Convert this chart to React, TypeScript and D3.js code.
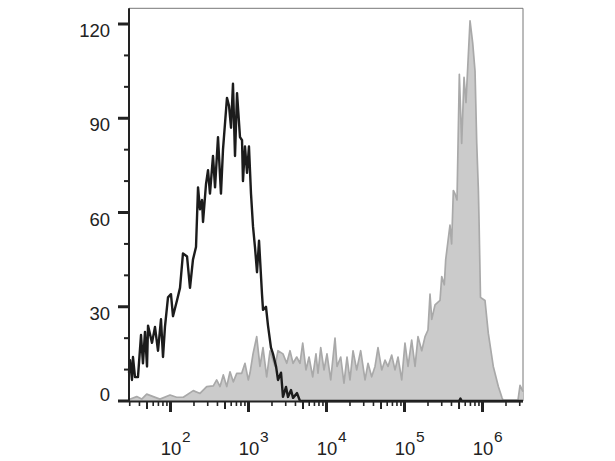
import React from 'react';
import * as d3 from 'd3';

// x values are log10(fluorescence intensity); y values are cell counts
const xDomainLog: [number, number] = [1.468, 6.519];
const yDomain: [number, number] = [0, 125];
const yTicksMajor = [0, 30, 60, 90, 120];
const yTicksMinor = [10, 20, 40, 50, 70, 80, 100, 110];
const decadeExponents = [2, 3, 4, 5, 6];

// Isotype control (black outline)
const isotypeHist: [number, number][] = [
  [1.468, 9], [1.481, 13], [1.506, 6.7], [1.519, 14], [1.545, 7.6], [1.583, 7.6],
  [1.622, 21], [1.647, 12], [1.673, 22], [1.699, 11], [1.712, 24], [1.763, 18.5],
  [1.801, 23.6], [1.84, 16], [1.878, 26], [1.904, 14], [1.929, 23.6], [1.968, 33],
  [2.006, 34], [2.032, 27], [2.083, 32], [2.122, 36], [2.16, 47], [2.212, 46],
  [2.25, 36], [2.288, 45], [2.327, 49], [2.353, 68], [2.378, 61], [2.404, 64],
  [2.417, 57], [2.455, 69], [2.481, 73.5], [2.506, 66], [2.545, 78], [2.571, 68],
  [2.609, 84], [2.647, 66], [2.673, 80], [2.724, 96.5], [2.75, 94], [2.776, 87],
  [2.801, 101], [2.827, 78], [2.853, 98], [2.891, 84], [2.917, 83], [2.929, 70],
  [2.955, 81], [2.981, 72.6], [3.006, 81], [3.032, 66], [3.058, 55.5], [3.083, 49],
  [3.109, 41], [3.135, 51], [3.173, 34], [3.186, 29], [3.224, 30], [3.25, 24],
  [3.288, 17], [3.314, 15], [3.353, 11], [3.378, 6.7], [3.417, 9], [3.442, 1.3],
  [3.481, 4.5], [3.506, 1.3], [3.545, 3.5], [3.571, 1], [3.622, 2.5], [3.66, 0],
  [5.7, 0], [5.717, 0.8], [5.734, 0], [6.519, 0],
];

// Stained sample (grey filled)
const stainedHist: [number, number][] = [
  [1.468, 0.5], [1.567, 1.4], [1.631, 0.6], [1.695, 2.2], [1.779, 1.4], [1.865, 0.6],
  [1.994, 1.9], [2.079, 1.2], [2.164, 1.2], [2.292, 3.3], [2.378, 2.4], [2.464, 4.6],
  [2.549, 4.8], [2.592, 6.7], [2.635, 4.6], [2.677, 8.3], [2.721, 4.6], [2.763, 9.3],
  [2.805, 6.1], [2.849, 8.8], [2.913, 8.8], [2.955, 12], [2.997, 6.7], [3.019, 8.9],
  [3.058, 15], [3.105, 20.5], [3.147, 11], [3.186, 17], [3.233, 7.7], [3.276, 16],
  [3.34, 11], [3.378, 16], [3.442, 15], [3.49, 12], [3.532, 16], [3.571, 12],
  [3.618, 14], [3.66, 12], [3.695, 18.4], [3.737, 9.9], [3.776, 14], [3.823, 7.7],
  [3.865, 15], [3.891, 8.9], [3.926, 17], [3.968, 9.9], [4.006, 15], [4.054, 6.7],
  [4.109, 20], [4.135, 11], [4.182, 14], [4.224, 5.7], [4.263, 14], [4.301, 6.7],
  [4.34, 16], [4.387, 9.9], [4.438, 16], [4.494, 6.7], [4.532, 12], [4.579, 7.7],
  [4.622, 11], [4.66, 17], [4.708, 9.9], [4.75, 13], [4.788, 11], [4.836, 14.6],
  [4.878, 9.9], [4.917, 14], [4.964, 6.7], [5.006, 18.4], [5.045, 11], [5.092, 19.4],
  [5.135, 11], [5.173, 20.5], [5.221, 16], [5.263, 20.5], [5.301, 22.6], [5.327, 34],
  [5.349, 26], [5.391, 30.6], [5.455, 32], [5.477, 39.6], [5.51, 37], [5.528, 45],
  [5.583, 56], [5.604, 50], [5.626, 67], [5.647, 66], [5.673, 64], [5.703, 104],
  [5.733, 82], [5.763, 103], [5.788, 95], [5.81, 106], [5.84, 121], [5.874, 114],
  [5.904, 105], [5.926, 82], [5.947, 67], [5.955, 58], [5.974, 33], [6.032, 32],
  [6.074, 21.6], [6.138, 11], [6.203, 4.6], [6.25, 1], [6.263, 0.3], [6.455, 0.3],
  [6.481, 5], [6.519, 3],
];

const W = 615;
const H = 461;
const margin = { left: 129, right: 523, top: 8.3, bottom: 401 };
const FONT = "'Liberation Sans', Arial, Helvetica, sans-serif";

export default function App() {
  const x = d3
    .scaleLog()
    .domain([Math.pow(10, xDomainLog[0]), Math.pow(10, xDomainLog[1])])
    .range([margin.left, margin.right]);
  const y = d3.scaleLinear().domain(yDomain).range([margin.bottom, margin.top]);

  const px = (d: [number, number]) => x(Math.pow(10, d[0]));
  const area = d3
    .area<[number, number]>()
    .x(px)
    .y0(y(0))
    .y1((d) => y(d[1]));
  const line = d3
    .line<[number, number]>()
    .x(px)
    .y((d) => y(d[1]));

  const [lo, hi] = x.domain();
  const minorX: { v: number; m: number }[] = [];
  for (let e = 1; e <= 6; e++) {
    for (let m = 2; m <= 9; m++) {
      const v = m * Math.pow(10, e);
      if (v >= lo && v <= hi) minorX.push({ v, m });
    }
  }

  return (
    <svg
      width={W}
      height={H}
      style={{ position: 'absolute', left: 0, top: 0, background: '#fff' }}
    >
      <rect x={0} y={0} width={W} height={H} fill="#fff" />
      {/* frame */}
      <line x1={margin.left} x2={margin.right} y1={margin.top} y2={margin.top} stroke="#777" strokeWidth={1} />
      <line x1={margin.right} x2={margin.right} y1={margin.top} y2={margin.bottom} stroke="#777" strokeWidth={1} />

      {/* stained histogram */}
      <path d={area(stainedHist) || ''} fill="#cbcbcb" stroke="none" />
      <path d={line(stainedHist) || ''} fill="none" stroke="#a9a9a9" strokeWidth={1.7} strokeLinejoin="round" />

      {/* isotype histogram */}
      <path d={line(isotypeHist) || ''} fill="none" stroke="#1c1c1c" strokeWidth={2.4} strokeLinejoin="round" />

      {/* axes lines */}
      <line x1={margin.left} x2={margin.left} y1={margin.top} y2={margin.bottom + 1} stroke="#222" strokeWidth={2} />
      <line x1={margin.left} x2={margin.right} y1={margin.bottom + 0.5} y2={margin.bottom + 0.5} stroke="#222" strokeWidth={2} />

      {/* y ticks */}
      {yTicksMinor.map((v) => (
        <line key={'ym' + v} x1={margin.left - 5} x2={margin.left} y1={y(v)} y2={y(v)} stroke="#222" strokeWidth={2} />
      ))}
      {yTicksMajor.map((v) => (
        <g key={'yM' + v}>
          <line x1={margin.left - 11} x2={margin.left} y1={y(v)} y2={y(v)} stroke="#222" strokeWidth={3} />
          <text
            x={110}
            y={v === 0 ? y(v) : y(v) + 13}
            textAnchor="end"
            fontFamily={FONT}
            fontSize={18.5}
            fill="#222"
          >
            {v}
          </text>
        </g>
      ))}

      {/* x ticks */}
      {minorX.map(({ v, m }) => (
        <line
          key={'xm' + v}
          x1={x(v)}
          x2={x(v)}
          y1={margin.bottom}
          y2={margin.bottom + (m === 5 ? 8 : 5)}
          stroke="#222"
          strokeWidth={m === 5 ? 2 : 1.6}
        />
      ))}
      {decadeExponents.map((e) => {
        const xp = x(Math.pow(10, e));
        return (
          <g key={'xM' + e}>
            <line x1={xp} x2={xp} y1={margin.bottom} y2={margin.bottom + 11} stroke="#222" strokeWidth={3} />
            <text x={xp + 0.5} y={454.5} textAnchor="middle" fontFamily={FONT} fontSize={18.5} fill="#222">
              10
            </text>
            <text x={xp + 11.5} y={441.5} textAnchor="start" fontFamily={FONT} fontSize={15.5} fill="#222">
              {e}
            </text>
          </g>
        );
      })}
    </svg>
  );
}
